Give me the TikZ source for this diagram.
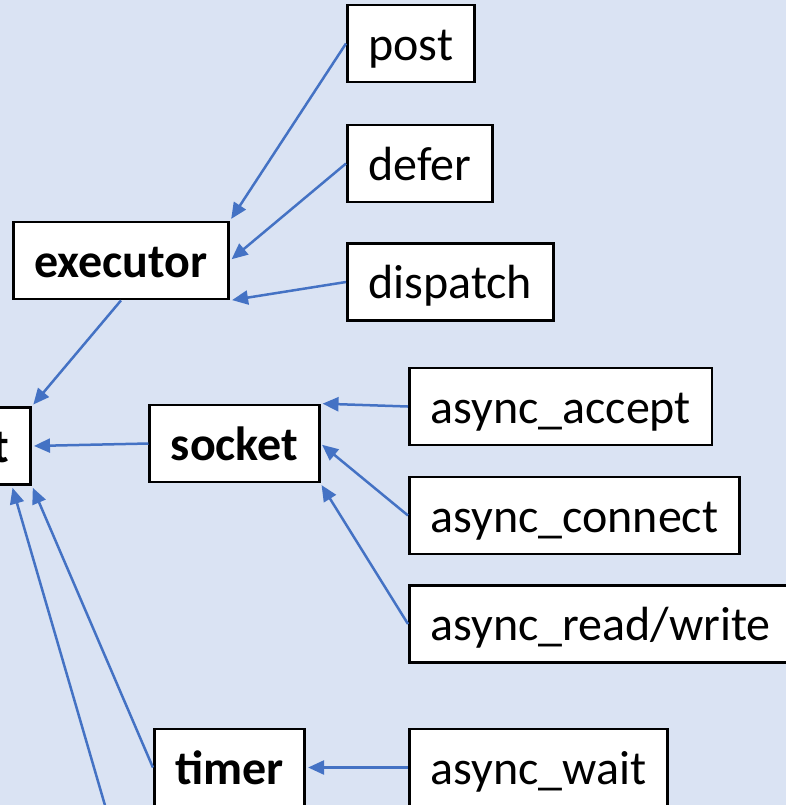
\documentclass[tikz,border=0pt]{standalone}
\usepackage{fontspec}
\setmainfont{Carlito}
\usetikzlibrary{arrows.meta}
\definecolor{bgblue}{HTML}{DAE3F3}
\definecolor{linkblue}{HTML}{4472C4}

\begin{document}
\begin{tikzpicture}[x=0.5pt,y=-0.5pt,->,>={Triangle[length=8pt,width=7pt]},shorten >=1pt,
    base node/.style={draw,fill=white,line width=1.4pt,minimum height=38.5pt,inner xsep=10.5pt,text height=16.5pt,text depth=0pt},
    main node/.style={base node,font=\fontsize{24}{28}\selectfont\bfseries},
    call node/.style={base node,anchor=west,font=\fontsize{24}{28}\selectfont}]
    \fill[bgblue,-,shorten >=0pt] (0,0) rectangle (786,805);
    \useasboundingbox (0,0) rectangle (786,805);

    \node[main node] (executor) at (121,260.5) {executor};
    \node[main node,anchor=east] (ctx) at (32,446) {t};
    \node[main node] (socket) at (234.5,443.5) {socket};
    \node[main node] (timer) at (229.5,767.5) {timer};

    \node[call node] (post) at (346,43.5) {post};
    \node[call node] (defer) at (346,163.5) {defer};
    \node[call node] (dispatch) at (346,282) {dispatch};
    \node[call node] (accept) at (408,406.5) {async\_accept};
    \node[call node] (connect) at (408,515.5) {async\_connect};
    \node[call node] (readwrite) at (408,624) {async\_read/write};
    \node[call node] (wait) at (408,767.5) {async\_wait};
    \coordinate (ctxlow) at (118,850);

    \path[linkblue,line width=1.25pt]
        (post.west) edge (executor.north east)
        (defer.west) edge (executor.east)
        (dispatch.west) edge (executor.south east)
        (executor.south) edge (ctx.north east)
        (socket.west) edge (ctx.east)
        (accept.west) edge (socket.north east)
        (connect.west) edge (socket.east)
        (readwrite.west) edge (socket.south east)
        (wait.west) edge (timer.east)
        (timer.west) edge (ctx.south east)
        (ctxlow) edge (ctx.-75)
        ;
\end{tikzpicture}
\end{document}
